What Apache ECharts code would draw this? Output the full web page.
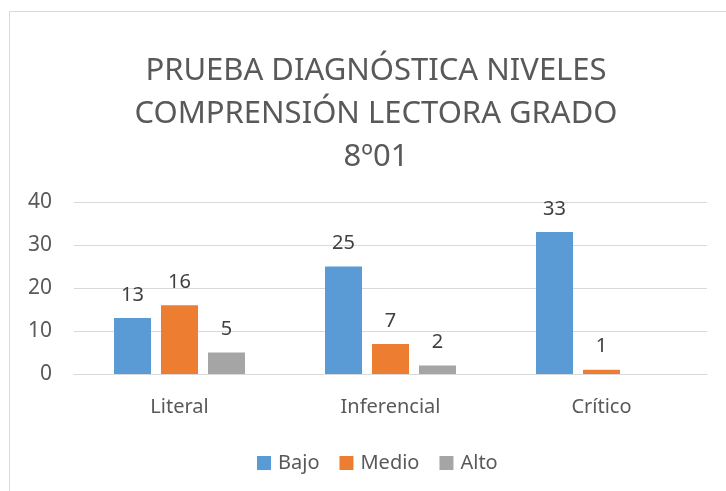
<!DOCTYPE html>
<html>
<head>
<meta charset="utf-8">
<script src="https://cdn.jsdelivr.net/npm/echarts@6/dist/echarts.min.js"></script>
<style>
  html, body { margin: 0; padding: 0; background: #fff; }
  #chart { width: 726px; height: 491px; }
</style>
</head>
<body>
<div id="chart"></div>
<script>
const categories = ['Literal', 'Inferencial', 'Crítico'];
const bajo = [13, 25, 33];
const medio = [16, 7, 1];
const alto = [5, 2, 0];
const yTicks = [0, 10, 20, 30, 40];

const font = 'Noto Sans, sans-serif';
const textGray = '#595959';

// etiqueta de valor: no se muestra el cero
const labelCfg = {
  show: true,
  position: 'top',
  distance: 13,
  fontSize: 20,
  color: '#404040',
  fontFamily: font,
  formatter: (p) => (p.value === 0 ? '' : p.value)
};

const chart = echarts.init(document.getElementById('chart'));
chart.setOption({
  animation: false,
  graphic: [{
    type: 'rect',
    shape: { x: 9.5, y: 11.5, width: 800, height: 600 },
    style: { fill: 'none', stroke: '#d9d9d9', lineWidth: 1 },
    silent: true
  }],
  title: {
    text: 'PRUEBA DIAGNÓSTICA NIVELES\nCOMPRENSIÓN LECTORA GRADO\n8º01',
    left: 371,
    textAlign: 'center',
    top: 45,
    textStyle: {
      fontSize: 31,
      fontWeight: 'normal',
      color: textGray,
      fontFamily: font,
      lineHeight: 43
    }
  },
  legend: {
    data: ['Bajo', 'Medio', 'Alto'],
    left: 252,
    top: 448,
    itemWidth: 14,
    itemHeight: 14,
    itemGap: 20,
    icon: 'rect',
    textStyle: { fontSize: 20, color: textGray, fontFamily: font, padding: [0, 0, 0, 2] }
  },
  grid: { left: 74, right: 19, top: 202, bottom: 117 },
  xAxis: {
    type: 'category',
    data: categories,
    axisLine: { lineStyle: { color: '#d9d9d9' } },
    axisTick: { show: false },
    axisLabel: { fontSize: 20, color: textGray, fontFamily: font, margin: 23 }
  },
  yAxis: {
    type: 'value',
    min: yTicks[0],
    max: yTicks[yTicks.length - 1],
    interval: 10,
    axisLine: { show: false },
    axisTick: { show: false },
    axisLabel: { fontSize: 21, color: textGray, fontFamily: font, margin: 22 },
    splitLine: { lineStyle: { color: '#d9d9d9', width: 1 } }
  },
  series: [
    { name: 'Bajo', type: 'bar', data: bajo, barWidth: 37, barGap: '27%', itemStyle: { color: '#5b9bd5' }, label: labelCfg },
    { name: 'Medio', type: 'bar', data: medio, barWidth: 37, itemStyle: { color: '#ed7d31' }, label: labelCfg },
    { name: 'Alto', type: 'bar', data: alto, barWidth: 37, itemStyle: { color: '#a5a5a5' }, label: labelCfg }
  ]
});
</script>
</body>
</html>
